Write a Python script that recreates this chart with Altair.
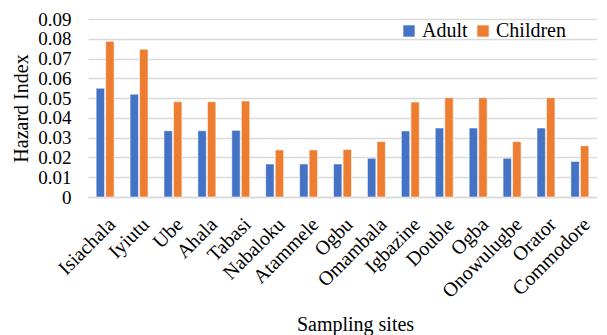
import altair as alt
import pandas as pd

sites = ["Isiachala", "Iyiutu", "Ube", "Ahala", "Tabasi", "Nabaloku", "Atammele",
         "Ogbu", "Omambala", "Igbazine", "Double", "Ogba", "Onowulugbe", "Orator", "Commodore"]
adult = [0.055, 0.052, 0.0335, 0.0335, 0.0337, 0.0167, 0.0167, 0.0167, 0.0196,
         0.0334, 0.0349, 0.0349, 0.0196, 0.0349, 0.018]
children = [0.0787, 0.0747, 0.0482, 0.0482, 0.0485, 0.0238, 0.0238, 0.024, 0.028,
            0.048, 0.0502, 0.0502, 0.028, 0.0502, 0.0259]
series = ["Adult", "Children"]
colors = ["#4472C4", "#ED7D31"]
y_ticks = [0, 0.01, 0.02, 0.03, 0.04, 0.05, 0.06, 0.07, 0.08, 0.09]

rows = []
for s, a, c in zip(sites, adult, children):
    rows.append({"site": s, "group": "Adult", "value": a})
    rows.append({"site": s, "group": "Children", "value": c})
df = pd.DataFrame(rows)

FONT = "Liberation Serif"

chart = alt.Chart(df).mark_bar(stroke="white", strokeWidth=0.8, strokeOpacity=0.7).encode(
    x=alt.X("site:N", sort=sites,
            scale=alt.Scale(paddingInner=0.47, paddingOuter=0.24),
            axis=alt.Axis(title="Sampling sites", labelAngle=-45, labelFontSize=20,
                          titleFontSize=20, titleFontWeight="normal", labelFont=FONT,
                          titleFont=FONT, labelColor="black", titleColor="black",
                          ticks=False, domainColor="#d9d9d9", domainWidth=1.5,
                          labelPadding=17, titlePadding=13, labelOverlap=False,
                          titleX=267, titleAlign="center", titleAnchor="start")),
    xOffset=alt.XOffset("group:N", sort=series, scale=alt.Scale(paddingInner=0.12)),
    y=alt.Y("value:Q", scale=alt.Scale(domain=[0, 0.09]),
            axis=alt.Axis(title="Hazard Index", values=y_ticks,
                          labelExpr="datum.value == 0 ? '0' : format(datum.value, '.2f')",
                          labelFontSize=19, titleFontSize=20, titleFontWeight="normal",
                          labelFont=FONT, titleFont=FONT, labelColor="black",
                          titleColor="black", ticks=False, domain=False,
                          gridColor="#d9d9d9", gridWidth=1.5, labelPadding=17,
                          titlePadding=6, labelOverlap=False)),
    color=alt.Color("group:N", sort=series, scale=alt.Scale(domain=series, range=colors),
                    legend=alt.Legend(title=None, orient="none", direction="horizontal",
                                      legendX=311, legendY=2, symbolType="square",
                                      symbolSize=130, symbolStrokeWidth=0,
                                      labelFontSize=20, labelFont=FONT,
                                      labelColor="black", columnPadding=5,
                                      labelOffset=3)),
).properties(
    width=509, height=178,
    padding={"left": 3, "top": 2, "right": 0, "bottom": 0},
).configure(font=FONT).configure_view(stroke=None)

chart.save("out.html", embed_options={"renderer": "svg", "actions": False})
